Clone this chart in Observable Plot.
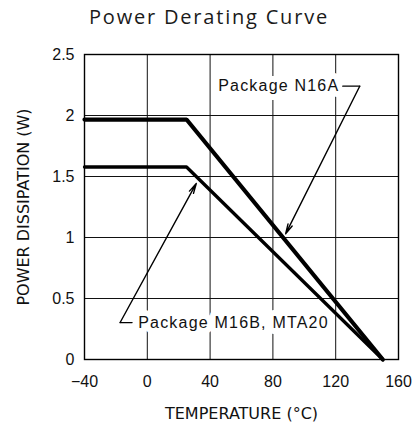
<!DOCTYPE html>
<html>
<head>
<meta charset="utf-8">
<script src="https://cdn.jsdelivr.net/npm/d3@7"></script>
<script src="https://cdn.jsdelivr.net/npm/@observablehq/plot@0.6"></script>
<style>
  html, body { margin: 0; padding: 0; background: #fff; }
  #wrap { width: 418px; }
  #title { height: 34px; line-height: 34px; text-align: center; font-family: "Open Sans", sans-serif; font-size: 20px; letter-spacing: 1.8px; color: #1a1a1a; }
  svg { display: block; }
  .pkg-label text { letter-spacing: 1.2px; }
</style>
</head>
<body>
<div id="wrap">
  <div id="title">Power Derating Curve</div>
  <div id="chart"></div>
</div>
<script>
// Data
const temps = [-40, 25, 150];
const n16aPower = [1.967, 1.967, 0];
const m16bPower = [1.578, 1.578, 0];
const xTicks = [-40, 0, 40, 80, 120, 160];
const yTicks = [0, 0.5, 1, 1.5, 2, 2.5];
const xLabel = "TEMPERATURE (°C)";
const yLabel = "POWER DISSIPATION (W)";
const labelN16A = "Package N16A";
const labelM16B = "Package M16B, MTA20";
// annotation anchor points (data units)
const n16aText = {x: 122.3, y: 2.24};
const n16aLeader = [{x: 124.5, y: 2.24}, {x: 135.3, y: 2.24}];
const n16aArrow = {x1: 135.3, y1: 2.24, x2: 88.1, y2: 1.03};
const m16bText = {x: -5.8, y: 0.303};
const m16bLeader = [{x: -9.7, y: 0.303}, {x: -17.3, y: 0.303}];
const m16bArrow = {x1: -17.3, y1: 0.303, x2: 31.2, y2: 1.443};

const n16a = temps.map((t, i) => ({t, p: n16aPower[i]}));
const m16b = temps.map((t, i) => ({t, p: m16bPower[i]}));

const tickFont = "'Liberation Sans', Arial, sans-serif";
const labelFont = "'DejaVu Sans', sans-serif";

const chart = Plot.plot({
  width: 418,
  height: 394,
  marginTop: 20,
  marginBottom: 69,
  marginLeft: 84,
  marginRight: 20,
  style: {background: "white", color: "black"},
  x: {domain: [-40, 160]},
  y: {domain: [0, 2.5]},
  marks: [
    Plot.gridX(xTicks, {stroke: "#111", strokeOpacity: 1, strokeWidth: 1}),
    Plot.gridY(yTicks, {stroke: "#111", strokeOpacity: 1, strokeWidth: 1}),
    Plot.line(n16a, {x: "t", y: "p", stroke: "black", strokeWidth: 4.2, strokeLinejoin: "miter"}),
    Plot.line(m16b, {x: "t", y: "p", stroke: "black", strokeWidth: 3.3, strokeLinejoin: "miter"}),
    Plot.text([labelN16A], {x: n16aText.x, y: n16aText.y, text: d => d, textAnchor: "end", fontSize: 16, fontFamily: tickFont, fill: "#111", stroke: "white", strokeWidth: 12, className: "pkg-label"}),
    Plot.text([labelM16B], {x: m16bText.x, y: m16bText.y, text: d => d, textAnchor: "start", fontSize: 16, fontFamily: tickFont, fill: "#111", stroke: "white", strokeWidth: 12, className: "pkg-label"}),
    Plot.line(n16aLeader, {x: "x", y: "y", stroke: "black", strokeWidth: 1.3}),
    Plot.line(m16bLeader, {x: "x", y: "y", stroke: "black", strokeWidth: 1.3}),
    Plot.arrow([n16aArrow], {x1: "x1", y1: "y1", x2: "x2", y2: "y2", stroke: "black", strokeWidth: 1.4, headLength: 11, headAngle: 26}),
    Plot.arrow([m16bArrow], {x1: "x1", y1: "y1", x2: "x2", y2: "y2", stroke: "black", strokeWidth: 1.4, headLength: 11, headAngle: 26}),
    Plot.frame({stroke: "black", strokeWidth: 1.4}),
    Plot.axisX(xTicks, {tickSize: 0, tickPadding: 16, fontSize: 16, fontFamily: tickFont, label: null, fill: "#111"}),
    Plot.axisY(yTicks, {tickSize: 0, tickPadding: 10, fontSize: 16, fontFamily: tickFont, label: null, fill: "#111", tickFormat: d => String(d)}),
    Plot.text([xLabel], {frameAnchor: "bottom", dy: 54, lineAnchor: "middle", textAnchor: "middle", text: d => d, fontSize: 16, fontFamily: labelFont, fill: "#111"}),
    Plot.text([yLabel], {frameAnchor: "left", dx: -61, rotate: -90, lineAnchor: "middle", textAnchor: "middle", text: d => d, fontSize: 16, fontFamily: labelFont, fill: "#111"})
  ]
});
// fallback if className is not supported by this Plot build
chart.querySelectorAll("text").forEach(t => {
  if (t.textContent === labelN16A || t.textContent === labelM16B) t.style.letterSpacing = "1.2px";
});
document.getElementById("chart").appendChild(chart);
</script>
</body>
</html>
